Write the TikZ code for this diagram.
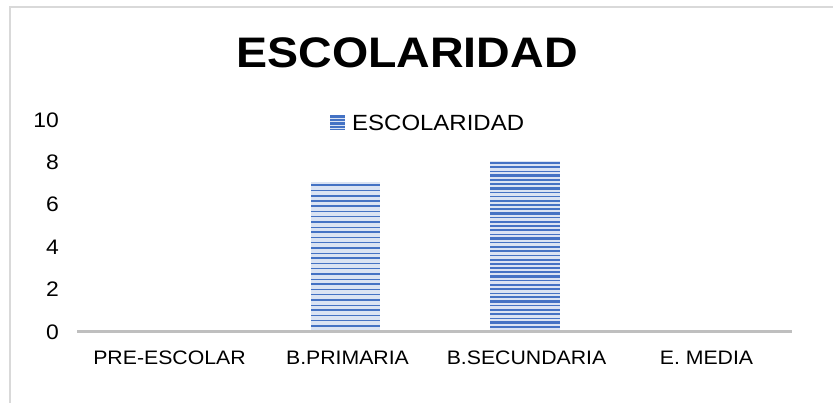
\documentclass[tikz,border=0pt]{standalone}
\usepackage{fontspec}
\setmainfont{Liberation Sans}[FakeStretch=1.09]
\usepackage{tikz}

\definecolor{barblue}{HTML}{4472C4}
\definecolor{barlight}{HTML}{DAE3F3}
\definecolor{axisgray}{HTML}{BFBFBF}
\definecolor{framegray}{HTML}{D9D9D9}

\tikzset{
  ylab/.style={anchor=base east,inner sep=0pt,font=\fontsize{21}{24}\selectfont},
  catlab/.style={anchor=base,inner sep=0pt,font=\fontsize{19.5}{22}\selectfont},
}

\begin{document}
\begin{tikzpicture}[x=1pt,y=-1pt]
          \useasboundingbox (0,0) rectangle (833,402);
          \draw[framegray,line width=1.5pt] (834,7) -- (10,7) -- (10,403);
          \node[anchor=base,inner sep=0pt,font=\bfseries\fontsize{42.7}{48}\selectfont] (title) at (407,67.3) {ESCOLARIDAD};
          % legend
          \node[anchor=base west,inner sep=0pt,font=\fontsize{22}{26}\selectfont] (leg) at (352,130) {ESCOLARIDAD};
          \fill[barblue] (330,115) rectangle (345,130);
          \foreach \y in {118,121.5,125,128} \draw[barlight,line width=0.8pt] (330,\y) -- (345,\y);
          % y axis labels
          \foreach \v in {0,2,...,10}
            \node[ylab] (y\v) at (59,331-21.2*\v+8) {\v};
          % bars
          \fill[barlight] (311,330) rectangle (380,182);
          \foreach \i in {1,...,28} {
            \pgfmathsetmacro\lw{0.4+1.6*abs(sin(\i*73))}
            \draw[barblue,line width=\lw pt] (311,331-\i*5.2) -- (380,331-\i*5.2);
          }
          \fill[barlight] (490,330) rectangle (560,160.5);
          \foreach \i in {1,...,40} {
            \pgfmathsetmacro\lw{0.6+2.0*abs(sin(\i*61))}
            \draw[barblue,line width=\lw pt] (490,331-\i*4.2) -- (560,331-\i*4.2);
          }
          \draw[axisgray,line width=3pt] (77,331) -- (792,331);
          % categories
          \node[catlab] (pre) at (169.5,364) {PRE-ESCOLAR};
          \node[catlab] (prim) at (347.5,364) {B.PRIMARIA};
          \node[catlab] (sec) at (526.5,364) {B.SECUNDARIA};
          \node[catlab] (med) at (706.5,364) {E. MEDIA};
        \end{tikzpicture}
\end{document}
